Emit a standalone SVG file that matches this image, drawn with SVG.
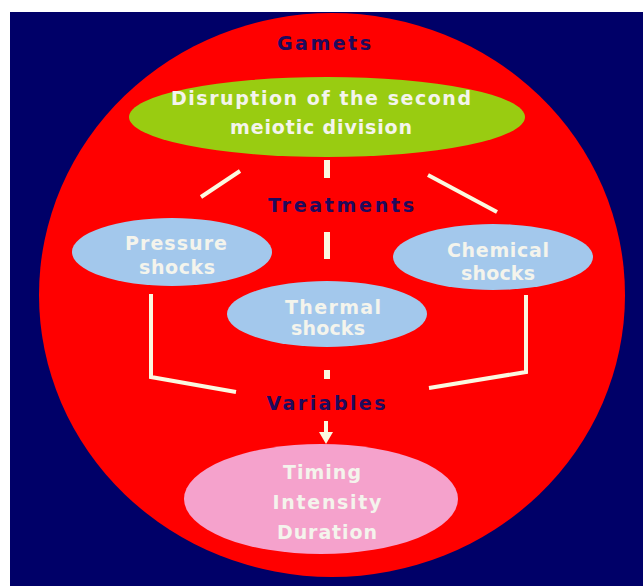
<svg xmlns="http://www.w3.org/2000/svg" width="643" height="586" viewBox="0 0 643 586">
<style>
.lbl{font-family:"DejaVu Sans","Liberation Sans",sans-serif;font-weight:bold;font-size:19px;text-anchor:middle;dominant-baseline:central}
.dark{fill:#200a5c}
.light{fill:#f4f4ec}
.con{stroke:#fbf8e0;stroke-width:4;fill:none;stroke-linecap:butt}
.dash{stroke:#fbf8e0;stroke-width:6;fill:none}
.head{fill:#fbf8e0}
</style>
<rect x="0" y="0" width="643" height="586" fill="#ffffff"/>
<rect x="10" y="12" width="633" height="574" fill="#000068"/>
<g id="gamets">
<ellipse cx="332" cy="295" rx="293" ry="282" fill="#ff0000"/>
<text class="lbl dark" x="324" y="43" textLength="94">Gamets</text>
</g>
<g id="disruption">
<ellipse cx="327" cy="117" rx="198" ry="40" fill="#99cc11"/>
<text class="lbl light" x="321" y="98" textLength="300">Disruption of the second</text>
<text class="lbl light" x="321" y="127" textLength="182">meiotic division</text>
</g>
<g id="treatments">
<text class="lbl dark" x="341" y="205" textLength="146">Treatments</text>
</g>
<g id="pressure">
<ellipse cx="172" cy="252" rx="100" ry="34" fill="#a3c8ec"/>
<text class="lbl light" x="176" y="243" textLength="102">Pressure</text>
<text class="lbl light" x="177" y="267" textLength="76">shocks</text>
</g>
<g id="chemical">
<ellipse cx="493" cy="257" rx="100" ry="33" fill="#a3c8ec"/>
<text class="lbl light" x="498" y="250" textLength="102">Chemical</text>
<text class="lbl light" x="498" y="273" textLength="74">shocks</text>
</g>
<g id="thermal">
<ellipse cx="327" cy="314" rx="100" ry="33" fill="#a3c8ec"/>
<text class="lbl light" x="333" y="307" textLength="96">Thermal</text>
<text class="lbl light" x="328" y="328" textLength="74">shocks</text>
</g>
<g id="variables">
<text class="lbl dark" x="326" y="403" textLength="119">Variables</text>
</g>
<g id="factors">
<ellipse cx="321" cy="499" rx="137" ry="55" fill="#f5a2cc"/>
<text class="lbl light" x="322" y="472" textLength="78">Timing</text>
<text class="lbl light" x="327" y="502" textLength="109">Intensity</text>
<text class="lbl light" x="327" y="532" textLength="100">Duration</text>
</g>
<g id="connectors">
<line class="con" x1="240" y1="171" x2="201" y2="197"/>
<line class="dash" x1="327" y1="160" x2="327" y2="178"/>
<line class="con" x1="428" y1="175" x2="497" y2="212"/>
<line class="dash" x1="327" y1="232" x2="327" y2="259"/>
<polyline class="con" points="151,294 151,377 236,392"/>
<polyline class="con" points="526,295 526,372 429,388"/>
<line class="dash" x1="327" y1="370" x2="327" y2="379"/>
<line class="con" x1="326" y1="421" x2="326" y2="434"/>
<polygon class="head" points="319,432 333,432 326,444"/>
</g>
</svg>
